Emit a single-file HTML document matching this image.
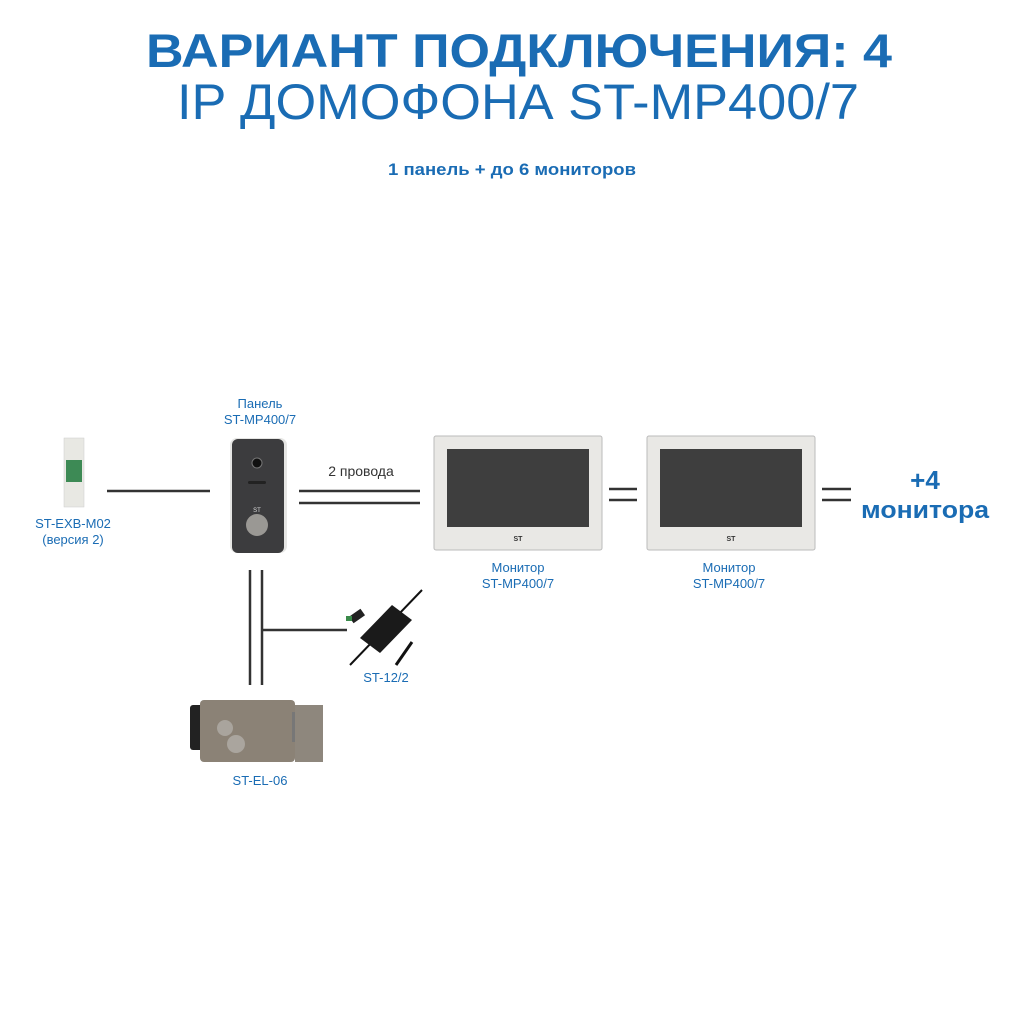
<!DOCTYPE html>
<html><head><meta charset="utf-8"><style>
html,body{margin:0;padding:0;background:#fff;}
svg{display:block}
.t{font-family:"Liberation Sans","DejaVu Sans",sans-serif;fill:#1a6cb4;}
</style></head><body>
<svg width="1024" height="1024" viewBox="0 0 1024 1024" xmlns="http://www.w3.org/2000/svg">
<rect width="1024" height="1024" fill="#fff"/>
<text class="t" x="519" y="67" text-anchor="middle" font-size="47" font-weight="bold" textLength="746" lengthAdjust="spacingAndGlyphs">ВАРИАНТ ПОДКЛЮЧЕНИЯ: 4</text>
<text class="t" x="518" y="119" text-anchor="middle" font-size="50" textLength="682" lengthAdjust="spacingAndGlyphs">IP ДОМОФОНА ST-MP400/7</text>
<text class="t" x="512" y="175" text-anchor="middle" font-size="17" font-weight="bold" textLength="248" lengthAdjust="spacingAndGlyphs">1 панель + до 6 мониторов</text>

<g stroke="#333" stroke-width="2.5">
<line x1="107" y1="491" x2="210" y2="491"/>
<line x1="299" y1="491" x2="420" y2="491"/>
<line x1="299" y1="503" x2="420" y2="503"/>
<line x1="609" y1="489" x2="637" y2="489"/>
<line x1="609" y1="500" x2="637" y2="500"/>
<line x1="822" y1="489" x2="851" y2="489"/>
<line x1="822" y1="500" x2="851" y2="500"/>
<line x1="250" y1="570" x2="250" y2="685"/>
<line x1="262" y1="570" x2="262" y2="685"/>
<line x1="262" y1="630" x2="347" y2="630"/>
</g>

<rect x="64" y="438" width="20" height="69" fill="#e8e8e3" stroke="#ccc" stroke-width="0.5"/>
<rect x="66" y="460" width="16" height="22" fill="#3d8a55"/>

<rect x="230" y="438" width="57" height="115" rx="7" fill="#e6e6e4"/>
<rect x="232" y="439" width="52" height="114" rx="6" fill="#3c3c3e"/>
<circle cx="257" cy="463" r="5" fill="#111" stroke="#777"/>
<rect x="248" y="481" width="18" height="3" rx="1.5" fill="#222"/>
<circle cx="257" cy="525" r="11" fill="#9a9894"/>
<text x="257" y="512" font-size="6" fill="#ddd" text-anchor="middle" font-family="Liberation Sans">ST</text>

<g>
<rect x="434" y="436" width="168" height="114" rx="2" fill="#e9e8e5" stroke="#bbb" stroke-width="1"/>
<rect x="447" y="449" width="142" height="78" fill="#3e3e3e"/>
<text x="518" y="541" font-size="7" font-weight="bold" fill="#333" text-anchor="middle" font-family="Liberation Sans">ST</text>
<rect x="647" y="436" width="168" height="114" rx="2" fill="#e9e8e5" stroke="#bbb" stroke-width="1"/>
<rect x="660" y="449" width="142" height="78" fill="#3e3e3e"/>
<text x="731" y="541" font-size="7" font-weight="bold" fill="#333" text-anchor="middle" font-family="Liberation Sans">ST</text>
</g>

<g>
<line x1="350" y1="665" x2="422" y2="590" stroke="#111" stroke-width="2"/>
<polygon points="360,638 392,605 412,620 380,653" fill="#1a1a1a"/>
<rect x="350" y="612" width="14" height="8" fill="#222" transform="rotate(-35 357 616)"/>
<rect x="346" y="616" width="6" height="5" fill="#3a8a4a"/>
<line x1="396" y1="665" x2="412" y2="642" stroke="#111" stroke-width="3"/>
</g>

<g>
<rect x="190" y="705" width="14" height="45" rx="3" fill="#222"/>
<rect x="200" y="700" width="95" height="62" rx="4" fill="#8b8276"/>
<rect x="292" y="712" width="10" height="30" fill="#777"/>
<rect x="295" y="705" width="28" height="57" fill="#8e877d"/>
<circle cx="225" cy="728" r="8" fill="#a9a49d"/>
<circle cx="236" cy="744" r="9" fill="#aaa59e"/>
</g>

<g class="t" font-size="13" text-anchor="middle">
<text x="260" y="408">Панель</text>
<text x="260" y="424">ST-MP400/7</text>
<text x="73" y="528">ST-EXB-M02</text>
<text x="73" y="544">(версия 2)</text>
<text x="386" y="682">ST-12/2</text>
<text x="260" y="785">ST-EL-06</text>
<text x="518" y="572">Монитор</text>
<text x="518" y="588">ST-MP400/7</text>
<text x="729" y="572">Монитор</text>
<text x="729" y="588">ST-MP400/7</text>
</g>
<text x="361" y="476" font-size="14" fill="#333" text-anchor="middle" font-family="Liberation Sans">2 провода</text>
<g text-anchor="middle">
<text x="925" y="489" font-size="26" font-weight="bold" class="t">+4</text>
<text x="925" y="518" font-size="24" font-weight="bold" class="t" textLength="128" lengthAdjust="spacingAndGlyphs">монитора</text>
</g>
</svg>
</body></html>
